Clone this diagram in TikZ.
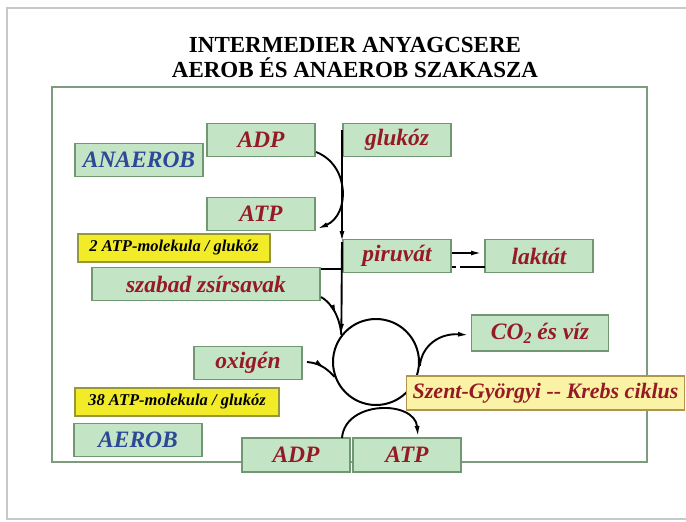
\documentclass[tikz,border=0pt]{standalone}
\usepackage{fontspec}
\setmainfont{Liberation Serif}
\usetikzlibrary{arrows.meta,decorations.markings}
\definecolor{boxfill}{RGB}{196,228,198}
\definecolor{boxdraw}{RGB}{112,152,114}
\definecolor{txtred}{RGB}{150,26,38}
\definecolor{txtblue}{RGB}{44,72,150}
\definecolor{ylw}{RGB}{242,236,40}
\definecolor{ylwdraw}{RGB}{150,150,60}
\definecolor{kyl}{RGB}{250,243,165}
\definecolor{kbd}{RGB}{175,150,80}
\definecolor{frm}{RGB}{125,155,125}
\definecolor{outer}{RGB}{200,200,200}
\tikzset{
  gbox/.style={draw=boxdraw, fill=boxfill, line width=1.4pt, inner sep=0pt,
    minimum width=108, minimum height=33,
    font=\fontsize{23.5}{23.5}\selectfont\bfseries\itshape, text=txtred},
  bluebox/.style={gbox, minimum width=128, text=txtblue},
  ybox/.style={draw=ylwdraw, fill=ylw, line width=1.4pt, inner sep=0pt,
    minimum height=28, font=\fontsize{16.5}{16.5}\selectfont\bfseries\itshape, text=black},
  conn/.style={line width=1.9pt, black},
  tip/.style={-{Latex[length=11pt,width=5pt]}},
  midtip/.style={postaction={decorate}, decoration={markings,
    mark=at position #1 with {\arrow{Latex[length=11pt,width=5pt]}}}}
}
\begin{document}
\begin{tikzpicture}[x=1pt,y=-1pt]
\useasboundingbox (0,0) rectangle (686,522);
\clip (0,0) rectangle (686,522);
% outer border
\draw[outer, line width=1.5pt] (700,8) -- (7,8) -- (7,519) -- (700,519);
% title
\node[font=\fontsize{23}{25}\selectfont\bfseries, align=center] (title) at (355,57)
  {INTERMEDIER ANYAGCSERE\\AEROB ÉS ANAEROB SZAKASZA};
% green frame
\draw[frm, line width=1.8pt] (52,87) rectangle (647,462);

% circle
\node[circle, draw, line width=2pt, minimum size=86, inner sep=0pt] (cyc) at (376,362) {};

% nodes
\node[gbox] (adp1) at (261,140) {ADP};
\node[bluebox] (anaerob) at (139,160) {ANAEROB};
\node[gbox] (gluk) at (397,140) {glukóz};
\node[gbox] (atp1) at (261,214) {ATP};
\node[ybox, minimum width=192] (y2) at (174,248) {2 ATP-molekula / glukóz};
\node[gbox] (piru) at (397,256) {piruvát};
\node[gbox] (lakt) at (539,256) {laktát};
\node[gbox, minimum width=228] (szabad) at (206,284) {szabad zsírsavak};
\node[gbox, minimum width=137, minimum height=36] (co2) at (540,333)
  {CO\raisebox{-4pt}{\fontsize{16}{16}\selectfont 2} és víz};
\node[gbox] (oxi) at (248,363) {oxigén};
\node[draw=kbd, fill=kyl, line width=1.4pt, minimum height=34, inner xsep=6pt, inner ysep=0pt,
  anchor=west, font=\fontsize{22}{22}\selectfont\bfseries\itshape, text=txtred]
  (krebs) at (406,393) {Szent-Györgyi -{}- Krebs ciklus\hspace{4pt}};
\node[ybox, minimum width=204] (y38) at (177,402) {38 ATP-molekula / glukóz};
\node[bluebox] (aerob) at (138,440) {AEROB};
\node[gbox, minimum height=34] (adp2) at (296,455) {ADP};
\node[gbox, minimum height=34] (atp2) at (407,455) {ATP};

% coordinates
\coordinate (vtop) at (342,130);
\coordinate (vmid) at (342,242);
\coordinate (a1s) at (316,152);
\coordinate (a1e) at (317,229);
\coordinate (sz1) at (321,269);
\coordinate (sz2) at (321,297);
\coordinate (p1) at (452,253);
\coordinate (p2) at (482,253);
\coordinate (q1) at (452,267);
\coordinate (q2) at (456,267);
\coordinate (q3) at (460,267);
\coordinate (q4) at (485,267);
\coordinate (ox) at (307,362);
\coordinate (co2s) at (469,335);
\coordinate (b1) at (342,438);
\coordinate (b2) at (418,437);

% connectors
\draw[conn, tip] (vtop) -- (vmid);
\draw[conn, tip] (vmid) -- (cyc.142);
\draw[conn, tip] (a1s) .. controls (350,165) and (350,215) .. (a1e);
\draw[conn] (sz1) -- (sz1 -| vtop);
\draw[conn, midtip=0.55] (sz2) .. controls (332,303) and (340,318) .. (cyc.142);
\draw[conn, tip] (p1) -- (p2);
\draw[conn] (q1) -- (q2);
\draw[conn] (q3) -- (q4);
\draw[conn, midtip=0.6] (ox) .. controls (322,363) and (330,372) .. (cyc.200);
\draw[conn, tip] (cyc.-5) .. controls (422,345) and (440,333) .. (co2s);
\draw[conn, tip] (b1) .. controls (345,400) and (415,400) .. (b2);
\end{tikzpicture}
\end{document}
